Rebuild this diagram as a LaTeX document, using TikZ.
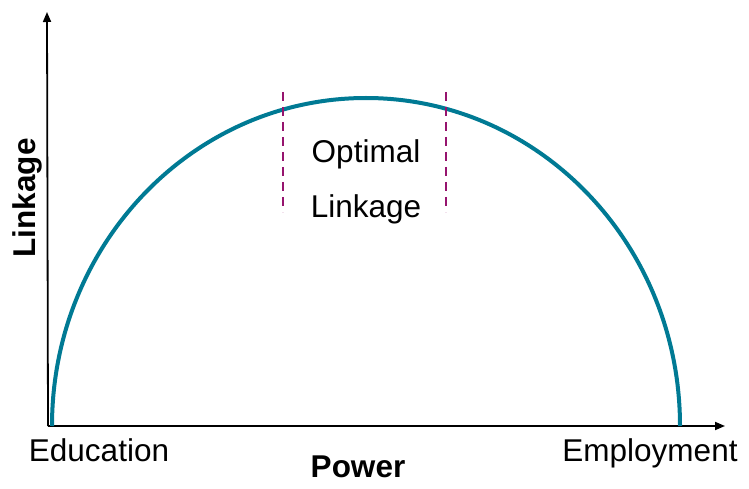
\documentclass[tikz,border=0pt]{standalone}
\usepackage{fontspec}
\setmainfont{Liberation Sans}
\usetikzlibrary{arrows.meta,positioning}
\definecolor{archteal}{RGB}{0,122,148}
\definecolor{markpurple}{RGB}{150,20,110}

\begin{document}
\begin{tikzpicture}[x=1pt,y=1pt,
  axis/.style={draw=black,line width=1.8pt,-{Triangle[length=10pt,width=8pt]}},
  arch/.style={draw=archteal,line width=4pt},
  marker/.style={draw=markpurple,line width=2pt,dash pattern=on 9pt off 6pt},
  lbl/.style={inner sep=0pt,font=\fontsize{31.5}{37}\selectfont},
  axlbl/.style={lbl,font=\fontsize{31.5}{37}\selectfont\bfseries}
]
 \path[use as bounding box] (0,0) rectangle (749,488);

 \coordinate (origin) at (48,62);
 \coordinate (ytip) at (47,476);
 \coordinate (xtip) at (725,62);

 \draw[axis] (origin) -- (ytip);
 \draw[axis] (origin) -- (xtip);

 % half-ellipse arch
 \draw[arch] (52,62) arc[start angle=180,end angle=0,x radius=314,y radius=328];

 \coordinate (lefttop) at (283,396);
 \coordinate (leftbot) at (283,276);
 \coordinate (righttop) at (446,396);
 \coordinate (rightbot) at (446,276);
 \draw[marker] (lefttop) -- (leftbot);
 \draw[marker] (righttop) -- (rightbot);

 \node[lbl,anchor=base] (optimal) at (366,325) {Optimal};
 \node[lbl,anchor=base] (linkage) at (366,271) {Linkage};

 \node[lbl,anchor=base] (education) at (99,27) {Education};
 \node[lbl,anchor=base] (employment) at (650,27) {Employment};
 \node[axlbl,anchor=base] (power) at (358,11) {Power};
 \node[axlbl,anchor=base,rotate=90] (ylabel) at (35,290) {Linkage};
\end{tikzpicture}
\end{document}
